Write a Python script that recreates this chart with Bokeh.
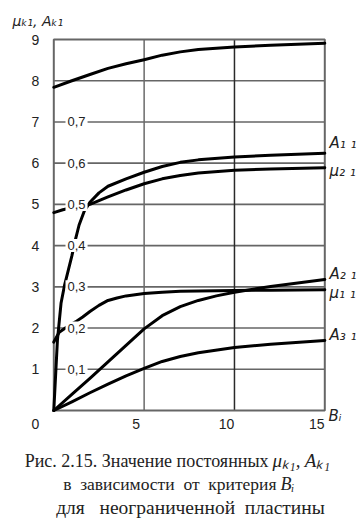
from bokeh.plotting import figure
from bokeh.models import Range1d, Label
from bokeh.embed import file_html
from bokeh.resources import INLINE

# ---- data ----
x_top = [0, 1, 2, 3, 4, 5, 6, 7, 8, 9, 10, 12, 15]
y_top = [7.84, 8.0, 8.15, 8.3, 8.41, 8.51, 8.62, 8.7, 8.76, 8.79, 8.82, 8.86, 8.91]

x_a11 = [0, 0.2, 0.4, 0.6, 0.8, 1.0, 1.2, 1.4, 1.7, 2.0, 2.5, 3, 4, 5, 6, 7, 8, 10, 12, 15]
y_a11 = [0, 1.7, 2.6, 3.05, 3.4, 3.75, 4.15, 4.5, 4.85, 5.05, 5.28, 5.44, 5.62, 5.78, 5.92, 6.02, 6.08, 6.15, 6.19, 6.24]

x_mu21 = [0, 0.5, 1, 1.5, 2, 3, 4, 5, 6, 7, 8, 10, 12, 15]
y_mu21 = [4.8, 4.87, 4.92, 4.96, 5.0, 5.18, 5.35, 5.5, 5.62, 5.7, 5.76, 5.83, 5.86, 5.89]

x_mu11 = [0, 0.3, 0.8, 1.2, 1.6, 2, 2.5, 3, 3.5, 4, 5, 6, 7, 8, 10, 12, 15]
y_mu11 = [1.66, 1.9, 2.05, 2.15, 2.27, 2.4, 2.55, 2.67, 2.73, 2.78, 2.84, 2.87, 2.89, 2.9, 2.91, 2.92, 2.93]

x_a21 = [0, 1, 2, 3, 4, 5, 6, 7, 8, 9, 10, 12, 15]
y_a21 = [0, 0.39, 0.78, 1.18, 1.58, 1.98, 2.3, 2.52, 2.67, 2.78, 2.87, 3.01, 3.18]

x_a31 = [0, 1, 2, 3, 4, 5, 6, 7, 8, 10, 12, 15]
y_a31 = [0, 0.21, 0.43, 0.64, 0.84, 1.02, 1.19, 1.31, 1.4, 1.53, 1.61, 1.70]

y_ticks = [1, 2, 3, 4, 5, 6, 7, 8, 9]
x_ticks = [5, 10, 15]
inner_ticks = [1, 2, 3, 4, 5, 6, 7]
inner_labels = ["0,1", "0,2", "0,3", "0,4", "0,5", "0,6", "0,7"]
h_grid = [1, 2, 3, 4, 5, 6, 7, 8]
v_grid = [5, 10]

curve_labels = ["A\u2081 \u2081", "\u03bc\u2082 \u2081", "A\u2082 \u2081", "\u03bc\u2081 \u2081", "A\u2083 \u2081"]

NB = "\u00a0"
cap1_a = "Рис. 2.15. Значение постоянных"
cap1_b = "\u03bc\u2096\u2081, A\u2096\u2081"
cap2_a = "в" + NB * 2 + "зависимости" + NB * 2 + "от" + NB * 2 + "критерия"
cap2_b = "B\u1d62"
cap3 = "для" + NB * 3 + "неограниченной" + NB * 2 + "пластины"

X0, X1, Y0, Y1 = 0, 15, 0, 9

# pixel <-> data mapping of the chart box (canvas pixels)
PX_L, PX_R, PY_T, PY_B = 53.3, 324.3, 39.0, 410.0
SX = (PX_R - PX_L) / (X1 - X0)
SY = (PY_B - PY_T) / (Y1 - Y0)
W, H = 364, 528


def dx(px):
    return X0 + (px - PX_L) / SX


def dy(py):
    return Y0 + (PY_B - py) / SY


p = figure(width=W, height=H, x_range=Range1d(dx(0), dx(W)),
           y_range=Range1d(dy(H), dy(0)),
           x_axis_type=None, y_axis_type=None, toolbar_location=None,
           output_backend="svg", min_border=0, min_border_left=0, min_border_right=0,
           min_border_top=0, min_border_bottom=0)
p.outline_line_color = None
p.background_fill_color = "white"
p.border_fill_color = "white"

grid_col = "#666666"
p.segment(x0=[X0] * len(h_grid), x1=[X1] * len(h_grid), y0=h_grid, y1=h_grid,
          line_color=grid_col, line_width=1.6)
p.segment(x0=v_grid, x1=v_grid, y0=[Y0] * len(v_grid), y1=[Y1] * len(v_grid),
          line_color=["#6a6a6a", "#2a2a2a"], line_width=1.5)
p.quad(left=[X0], right=[X1], bottom=[Y0], top=[Y1], fill_color=None,
       line_color="#666666", line_width=2)

for xs, ys in [(x_top, y_top), (x_a11, y_a11), (x_mu21, y_mu21),
               (x_mu11, y_mu11), (x_a21, y_a21), (x_a31, y_a31)]:
    p.line(xs, ys, line_color="black", line_width=3, line_join="round", line_cap="round")

tick_font = "Liberation Sans"
tick_col = "#222222"


def lab(x, y, text, align="center", font=tick_font, size="14px", style="normal", **kw):
    p.add_layout(Label(x=x, y=y, text=text, text_align=align, text_baseline="middle",
                       text_font=font, text_font_size=size, text_font_style=style,
                       text_color=tick_col, **kw))


# inner secondary scale labels with white background (break lines)
for yv, txt in zip(inner_ticks, inner_labels):
    lab(dx(65), yv, txt, align="left", size="13px",
        background_fill_color="white", padding=2)

for yv in y_ticks:
    lab(dx(35), yv, str(yv))
lab(dx(35), dy(423), "0")
for xv in x_ticks:
    lab(xv, dy(423), str(xv), x_offset=-8)

for txt, py in zip(curve_labels, [142, 170, 273, 292, 334]):
    lab(dx(329), dy(py), txt, align="left", font="DejaVu Sans", size="15px", style="italic")

lab(dx(328), dy(415), "B\u1d62", align="left", font="DejaVu Sans", size="15px", style="italic")
lab(dx(12), dy(20), "\u03bc\u2096\u2081, A\u2096\u2081", align="left", font="DejaVu Sans",
    size="14px", style="italic")

serif = "Liberation Serif"
lab(dx(268), dy(460), cap1_a, align="right", font=serif, size="18px")
lab(dx(272), dy(460), cap1_b, align="left", font=serif, size="19px", style="italic")
lab(dx(276), dy(483), cap2_a, align="right", font=serif, size="17.5px")
lab(dx(280), dy(483), cap2_b, align="left", font=serif, size="18px", style="italic")
lab(dx(190), dy(507), cap3, align="center", font=serif, size="19.5px")

open("out.html", "w").write(file_html(p, INLINE))
